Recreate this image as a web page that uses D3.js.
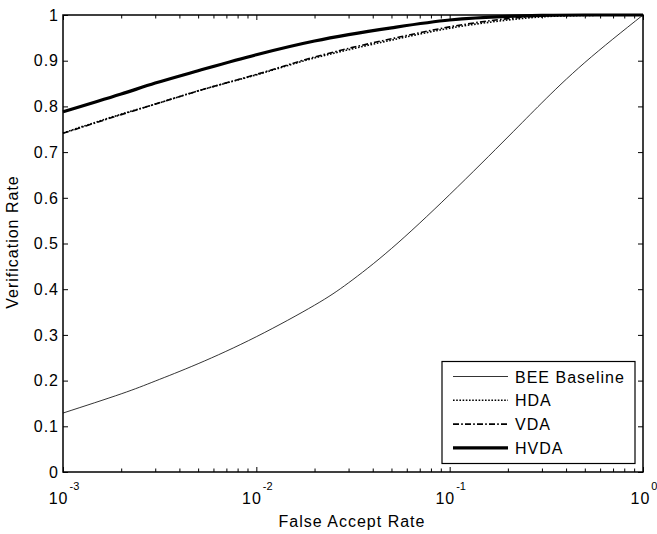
<!DOCTYPE html>
<html>
<head>
<meta charset="utf-8">
<script src="https://cdn.jsdelivr.net/npm/d3@7"></script>
<style>
  body { margin: 0; background: #fff; }
  text { font-family: "Liberation Sans", Arial, Helvetica, sans-serif; fill: #000; }
</style>
</head>
<body>
<div class="canvas"></div>
<script>
// data
const far = [0.001, 0.002, 0.003, 0.005, 0.01, 0.02, 0.03, 0.05, 0.1, 0.2, 0.3, 0.5, 1];
const beeBaseline = [0.129, 0.171, 0.199, 0.237, 0.296, 0.365, 0.414, 0.489, 0.607, 0.733, 0.808, 0.896, 1.0];
const hda = [0.742, 0.783, 0.805, 0.834, 0.869, 0.906, 0.924, 0.945, 0.971, 0.989, 0.996, 0.999, 1.0];
const vda = [0.741, 0.782, 0.805, 0.834, 0.870, 0.908, 0.927, 0.948, 0.974, 0.992, 0.998, 1.0, 1.0];
const hvda = [0.788, 0.827, 0.851, 0.878, 0.913, 0.943, 0.957, 0.972, 0.989, 0.997, 0.999, 1.0, 1.0];

const seriesNames = ["BEE Baseline", "HDA", "VDA", "HVDA"];
const xMajorTicks = [0.001, 0.01, 0.1, 1];
const xTickExponents = ["-3", "-2", "-1", "0"];
const yTicks = [0, 0.1, 0.2, 0.3, 0.4, 0.5, 0.6, 0.7, 0.8, 0.9, 1];
const yTickLabels = ["0", "0.1", "0.2", "0.3", "0.4", "0.5", "0.6", "0.7", "0.8", "0.9", "1"];

const width = 657;
const height = 534;
const margin = { top: 15, right: 14, bottom: 62, left: 63 };
const graphWidth = width - margin.left - margin.right;
const graphHeight = height - margin.top - margin.bottom;

const svg = d3
  .select(".canvas")
  .append("svg")
  .attr("width", width)
  .attr("height", height);

const graph = svg
  .append("g")
  .attr("transform", `translate(${margin.left},${margin.top})`);

//scales
const x = d3.scaleLog().domain([0.001, 1]).range([0, graphWidth]);
const y = d3.scaleLinear().domain([0, 1]).range([graphHeight, 0]);

//clip for the curves
svg
  .append("clipPath")
  .attr("id", "plot-clip")
  .append("rect")
  .attr("x", -2)
  .attr("y", -2)
  .attr("width", graphWidth + 4)
  .attr("height", graphHeight + 4);

//line styles per series
const styles = [
  { width: 0.8, dash: null, curve: d3.curveNatural },
  { width: 1.6, dash: "1.6,1.6", curve: d3.curveMonotoneX },
  { width: 1.6, dash: "6,2.2,1.6,2.2", curve: d3.curveMonotoneX },
  { width: 3.2, dash: null, curve: d3.curveMonotoneX }
];
const seriesValues = [beeBaseline, hda, vda, hvda];

const lines = graph.append("g").attr("clip-path", "url(#plot-clip)");

seriesValues.forEach((vals, i) => {
  const pts = far.map((f, j) => ({ far: f, v: vals[j] }));
  const line = d3
    .line()
    .x((d) => x(d.far))
    .y((d) => y(d.v))
    .curve(styles[i].curve);
  lines
    .append("path")
    .datum(pts)
    .attr("fill", "none")
    .attr("stroke", "#000")
    .attr("stroke-width", styles[i].width)
    .attr("stroke-dasharray", styles[i].dash)
    .attr("stroke-linejoin", "round")
    .attr("d", line);
});

//axes (matlab style: box with inward ticks)
const allXTicks = x.ticks();
const xMinor = allXTicks.filter((t) => !xMajorTicks.some((m) => Math.abs(m - t) < 1e-9));

const axisStyle = (g) => {
  g.select(".domain").remove();
  g.selectAll("line").attr("stroke", "#000").attr("stroke-width", 1);
  g.selectAll("text").remove();
};

graph
  .append("g")
  .attr("transform", `translate(0,${graphHeight})`)
  .call(d3.axisBottom(x).tickValues(xMajorTicks).tickSize(-5))
  .call(axisStyle);
graph
  .append("g")
  .attr("transform", `translate(0,${graphHeight})`)
  .call(d3.axisBottom(x).tickValues(xMinor).tickSize(-3.5))
  .call(axisStyle);
graph
  .append("g")
  .call(d3.axisTop(x).tickValues(xMajorTicks).tickSize(-5))
  .call(axisStyle);
graph
  .append("g")
  .call(d3.axisTop(x).tickValues(xMinor).tickSize(-3.5))
  .call(axisStyle);
graph
  .append("g")
  .call(d3.axisLeft(y).tickValues(yTicks).tickSize(-5))
  .call(axisStyle);
graph
  .append("g")
  .attr("transform", `translate(${graphWidth},0)`)
  .call(d3.axisRight(y).tickValues(yTicks).tickSize(-5))
  .call(axisStyle);

//box
graph
  .append("rect")
  .attr("width", graphWidth)
  .attr("height", graphHeight)
  .attr("fill", "none")
  .attr("stroke", "#000")
  .attr("stroke-width", 1.5);

//y tick labels
graph
  .selectAll(".ylab")
  .data(yTicks)
  .enter()
  .append("text")
  .attr("x", -4)
  .attr("y", (d) => y(d))
  .attr("dy", "0.36em")
  .attr("text-anchor", "end")
  .style("font-size", "16px")
  .style("letter-spacing", "1px")
  .text((d, i) => yTickLabels[i]);

//x tick labels as 10^n
const xl = graph
  .selectAll(".xlab")
  .data(xMajorTicks)
  .enter()
  .append("text")
  .attr("x", (d) => x(d) + 1)
  .attr("y", graphHeight + 32)
  .attr("text-anchor", "middle")
  .style("font-size", "16px");
xl.append("tspan").style("letter-spacing", "1px").text("10");
xl.append("tspan")
  .attr("dy", -14)
  .attr("dx", 1)
  .style("font-size", "11px")
  .text((d, i) => xTickExponents[i]);

//axis titles
svg
  .append("text")
  .attr("x", 352)
  .attr("y", 527)
  .attr("text-anchor", "middle")
  .style("font-size", "16px")
  .style("letter-spacing", "1px")
  .text("False Accept Rate");

svg
  .append("text")
  .attr("transform", "translate(18,242) rotate(-90)")
  .attr("text-anchor", "middle")
  .style("font-size", "16px")
  .style("letter-spacing", "1px")
  .text("Verification Rate");

//legend
const legend = svg.append("g");
legend
  .append("rect")
  .attr("x", 442)
  .attr("y", 361.5)
  .attr("width", 193)
  .attr("height", 102)
  .attr("fill", "#fff")
  .attr("stroke", "#000")
  .attr("stroke-width", 1.2);

seriesNames.forEach((name, i) => {
  const ly = 376.5 + i * 23.8;
  legend
    .append("line")
    .attr("x1", 453)
    .attr("x2", 508)
    .attr("y1", ly)
    .attr("y2", ly)
    .attr("stroke", "#000")
    .attr("stroke-width", styles[i].width)
    .attr("stroke-dasharray", styles[i].dash);
  legend
    .append("text")
    .attr("x", 515)
    .attr("y", ly + 6)
    .style("font-size", "16px")
    .style("letter-spacing", "1px")
    .text(name);
});
</script>
</body>
</html>
